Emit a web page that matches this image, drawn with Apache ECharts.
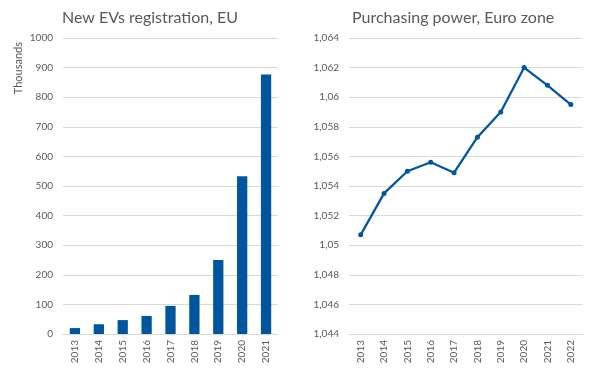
<!DOCTYPE html>
<html><head><meta charset="utf-8">
<script src="https://cdn.jsdelivr.net/npm/echarts@6/dist/echarts.min.js"></script>
<style>html,body{margin:0;padding:0;background:#fff}#c{width:605px;height:382px}</style>
</head><body><div id="c"></div>
<script>
const evYears = ['2013','2014','2015','2016','2017','2018','2019','2020','2021'];
const evValues = [20, 33, 47, 61, 95, 132, 250, 533, 877];
const ppYears = ['2013','2014','2015','2016','2017','2018','2019','2020','2021','2022'];
const ppValues = [1.0507, 1.0535, 1.0550, 1.0556, 1.0549, 1.0573, 1.0590, 1.0620, 1.0608, 1.0595];
const evTicks = ['0','100','200','300','400','500','600','700','800','900','1000'];
const ppTicks = ['1,044','1,046','1,048','1,05','1,052','1,054','1,056','1,058','1,06','1,062','1,064'];

const FONT = 'Lato';
const GRAY = '#595959';
const BLUE = '#00559F';
const chart = echarts.init(document.getElementById('c'), null, {renderer:'canvas'});
chart.setOption({
  animation:false,
  textStyle:{fontFamily:FONT},
  title:[
    {text:'New EVs registration, EU', left:57, top:5, textStyle:{fontFamily:FONT, fontSize:16, fontWeight:'normal', color:GRAY}},
    {text:'Purchasing power, Euro zone', left:347, top:5, textStyle:{fontFamily:FONT, fontSize:16, fontWeight:'normal', color:GRAY}}
  ],
  graphic:[{type:'text', left:13, top:42, rotation:Math.PI/2,
    style:{text:'Thousands', fontFamily:FONT, fontSize:11, fill:GRAY}}],
  grid:[
    {left:63, right:327, top:38, bottom:48},
    {left:349, right:22.5, top:38, bottom:48}
  ],
  xAxis:[
    {type:'category', gridIndex:0, data:evYears, boundaryGap:true,
     axisLine:{lineStyle:{color:'#d9d9d9'}}, axisTick:{show:false},
     axisLabel:{rotate:90, color:GRAY, fontSize:10, fontFamily:FONT, margin:6}},
    {type:'category', gridIndex:1, data:ppYears, boundaryGap:true,
     axisLine:{lineStyle:{color:'#d9d9d9'}}, axisTick:{show:false},
     axisLabel:{rotate:90, color:GRAY, fontSize:10, fontFamily:FONT, margin:6}}
  ],
  yAxis:[
    {type:'value', gridIndex:0, min:0, max:1000, interval:100,
     axisLine:{show:false}, axisTick:{show:false},
     splitLine:{lineStyle:{color:'#d9d9d9'}},
     axisLabel:{color:GRAY, fontSize:10, fontFamily:FONT, margin:10,
       formatter:v=>evTicks[Math.round(v/100)]}},
    {type:'value', gridIndex:1, min:1.044, max:1.064, interval:0.002,
     axisLine:{show:false}, axisTick:{show:false},
     splitLine:{lineStyle:{color:'#d9d9d9'}},
     axisLabel:{color:GRAY, fontSize:10, fontFamily:FONT, margin:10,
       formatter:v=>ppTicks[Math.round((v-1.044)/0.002)]}}
  ],
  series:[
    {type:'bar', xAxisIndex:0, yAxisIndex:0, data:evValues, barWidth:'43%',
     itemStyle:{color:BLUE}},
    {type:'line', xAxisIndex:1, yAxisIndex:1, data:ppValues,
     lineStyle:{color:BLUE, width:2.25}, itemStyle:{color:BLUE},
     symbol:'circle', symbolSize:5, showSymbol:true}
  ]
});
</script></body></html>
